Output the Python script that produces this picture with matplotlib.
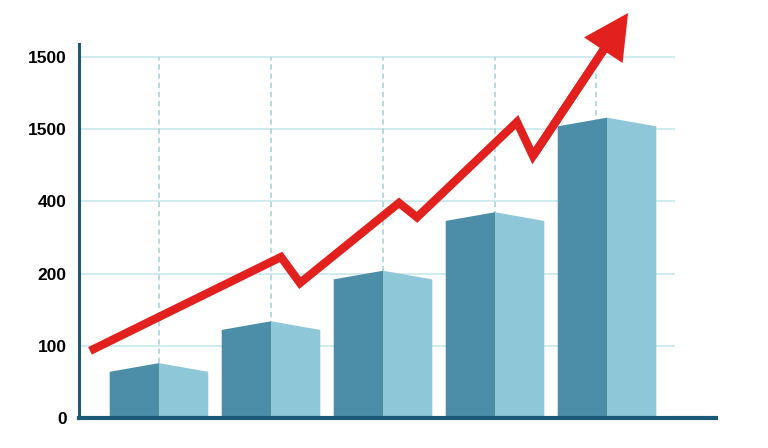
import numpy as np
import matplotlib
matplotlib.use('Agg')
import matplotlib.pyplot as plt
from matplotlib.patches import Polygon

# bar heights, read in y-tick steps (ticks are evenly spaced)
bar_pos = [1, 2, 3, 4, 5]
bar_vals = [0.76, 1.34, 2.04, 2.85, 4.16]
ytick_labels = ['0', '100', '200', '400', '1500', '1500']

# red trend line vertices (same units)
line_x = [0.384, 2.089, 2.259, 3.143, 3.304, 4.196, 4.339, 5.188]
line_y = [0.93, 2.23, 1.87, 2.98, 2.78, 4.10, 3.63, 5.61]

dark = '#4c8ea8'
light = '#8ec7d7'
axis_col = '#1d5a78'
red = '#e2211f'

fig = plt.figure(figsize=(7.68, 4.48), dpi=100)
ax = fig.add_axes([79 / 768, 30 / 448, (716 - 79) / 768, 418 / 448])
ax.set_xlim(0.286, 5.973)
ax.set_ylim(0, 5.79)

# grid
yt = np.arange(len(ytick_labels))
ax.hlines(yt[1:], 0.286, 5.607, color='#c4e4eb', lw=1.1, zorder=0)
ax.vlines([1, 2, 3, 4, 4.9], 0, 5, color='#9fd0dc', lw=1.1, linestyles=(0, (3.5, 2.5)), zorder=0)

# pseudo 3d bars
hw = 0.44
drop = 0.12
for x, h in zip(bar_pos, bar_vals):
    ax.add_patch(Polygon([(x - hw, 0), (x - hw, h - drop), (x, h), (x, 0)],
                         closed=True, facecolor=dark, edgecolor='none', zorder=2))
    ax.add_patch(Polygon([(x, 0), (x, h), (x + hw, h - drop), (x + hw, 0)],
                         closed=True, facecolor=light, edgecolor='none', zorder=2))

# trend line, last segment drawn as a filled arrow
lw = 6.0
lx = line_x[:-1] + [line_x[-2] + 0.8 * (line_x[-1] - line_x[-2])]
ly = line_y[:-1] + [line_y[-2] + 0.8 * (line_y[-1] - line_y[-2])]
ax.plot(lx, ly, color=red, lw=lw, solid_joinstyle='miter', solid_capstyle='butt', zorder=3)
ax.annotate('', xy=(line_x[-1], line_y[-1]), xytext=(line_x[-2], line_y[-2]),
            arrowprops=dict(arrowstyle='simple,head_length=1.4,head_width=1.45,tail_width=%.3f' % (lw / 23),
                            facecolor=red, edgecolor='none', lw=0, mutation_scale=23,
                            shrinkA=0, shrinkB=0), zorder=4)

ax.set_yticks(yt)
ax.set_yticklabels(ytick_labels, fontsize=12.5, fontweight='bold', family='Liberation Sans')
ax.tick_params(axis='y', length=0, pad=9)
ax.set_xticks([])
for s in ['top', 'right']:
    ax.spines[s].set_visible(False)
ax.spines['left'].set_color(axis_col)
ax.spines['left'].set_linewidth(2.2)
ax.spines['left'].set_bounds(0, 5.18)
ax.spines['bottom'].set_color(axis_col)
ax.spines['bottom'].set_linewidth(3)
ax.patch.set_alpha(0)

fig.savefig('out.png', dpi=100)
